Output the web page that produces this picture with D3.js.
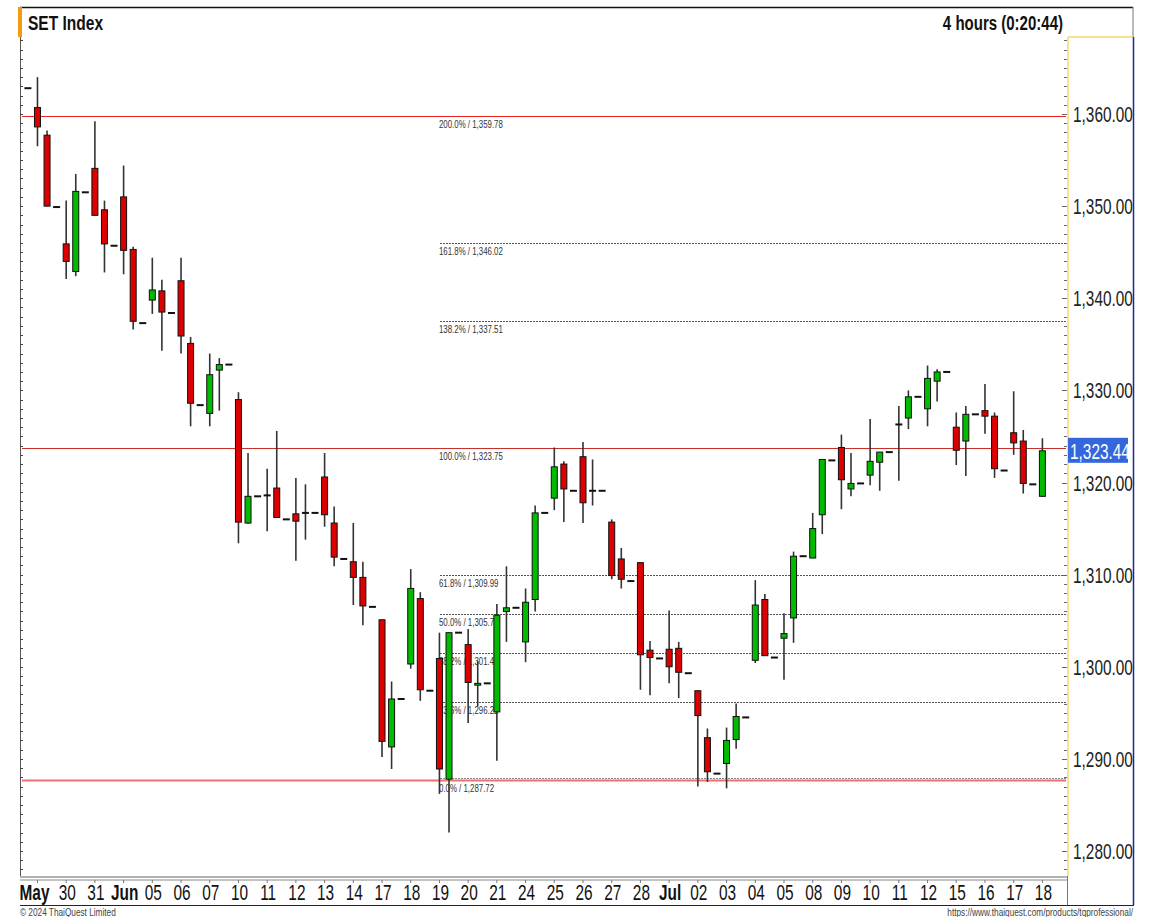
<!DOCTYPE html>
<html>
<head>
<meta charset="utf-8">
<script src="https://cdn.jsdelivr.net/npm/d3@7"></script>
<style>
  body { margin: 0; background: #fff; }
</style>
</head>
<body>
<div id="drawing"></div>
<script>
// 4 hour bars, 3 per day (morning, afternoon, close print)
const opens  = [1362.8, 1360.7,1357.7,1349.9, 1345.9,1342.9,1351.5, 1354.1,1349.6,1345.7, 1351.0,1345.3,1337.3,
  1339.8,1340.8,1338.4, 1341.9,1335.1,1328.4, 1327.5,1332.2,1332.8, 1329.0,1315.6,1318.5, 1318.6,1319.4,1316.0,
  1316.6,1316.7,1316.7, 1320.6,1315.6,1311.7, 1311.4,1309.7,1306.5, 1305.1,1291.3,1296.5, 1300.3,1307.4,1297.4,
  1300.9,1287.8,1303.7, 1302.4,1298.0,1298.2, 1295.1,1306.0,1306.4, 1302.7,1307.3,1316.7, 1318.3,1322.0,1319.1,
  1322.8,1319.1,1319.1, 1315.7,1311.7,1309.3, 1311.3,1301.8,1300.9, 1301.9,1302.0,1299.3, 1297.4,1292.3,1288.4,
  1289.5,1292.1,1294.5, 1300.7,1307.3,1301.0, 1303.1,1305.3,1312.0, 1311.8,1316.5,1322.4, 1323.8,1319.3,1319.9,
  1320.8,1322.2,1323.3, 1326.3,1327.0,1329.3, 1328.0,1331.0,1332.0, 1326.0,1324.5,1327.4, 1327.8,1327.2,1321.3,
  1325.4,1324.5,1319.8, 1318.5];
const highs  = [1362.8, 1364.0,1358.2,1349.9, 1350.6,1353.5,1351.5, 1359.2,1350.6,1345.7, 1354.4,1345.6,1337.3,
  1344.4,1342.0,1338.4, 1344.4,1335.8,1328.4, 1334.0,1333.5,1332.8, 1329.8,1323.2,1318.5, 1321.5,1325.6,1316.0,
  1320.5,1319.8,1316.7, 1323.2,1317.4,1311.7, 1315.6,1311.4,1306.5, 1305.1,1298.4,1296.5, 1310.6,1308.1,1297.4,
  1303.7,1303.7,1303.7, 1304.1,1300.6,1298.2, 1306.8,1310.9,1306.4, 1308.5,1317.5,1316.7, 1323.8,1322.3,1319.1,
  1324.4,1322.5,1319.1, 1316.0,1312.9,1309.3, 1311.3,1302.8,1300.9, 1306.1,1302.7,1299.3, 1297.4,1293.3,1288.4,
  1293.4,1296.0,1294.5, 1309.4,1307.9,1301.0, 1305.8,1312.5,1312.0, 1316.7,1322.5,1322.4, 1325.2,1323.2,1319.9,
  1326.9,1323.3,1323.3, 1328.3,1330.0,1329.3, 1332.7,1332.3,1332.0, 1327.6,1328.3,1327.4, 1330.7,1327.6,1321.3,
  1329.9,1325.7,1319.8, 1324.8];
const lows   = [1362.8, 1356.5,1350.0,1349.9, 1342.1,1342.4,1351.5, 1349.0,1342.8,1345.7, 1342.6,1336.6,1337.3,
  1338.3,1334.3,1338.4, 1334.0,1326.1,1328.4, 1326.1,1327.8,1332.8, 1313.4,1315.5,1318.5, 1314.7,1316.2,1316.0,
  1311.5,1313.8,1316.7, 1315.2,1310.9,1311.7, 1306.7,1304.5,1306.5, 1290.2,1288.9,1296.5, 1299.8,1296.3,1297.4,
  1286.2,1282.0,1303.7, 1293.9,1295.7,1298.2, 1289.8,1302.7,1306.4, 1300.5,1306.0,1316.7, 1317.0,1315.7,1319.1,
  1315.6,1317.5,1319.1, 1309.5,1308.5,1309.3, 1297.5,1296.9,1300.9, 1298.2,1296.6,1299.3, 1287.0,1287.5,1288.4,
  1286.8,1291.1,1294.5, 1300.4,1301.2,1301.0, 1298.6,1302.6,1312.0, 1311.8,1314.4,1322.4, 1317.1,1318.5,1319.9,
  1319.7,1319.1,1323.3, 1320.2,1325.8,1329.3, 1326.1,1328.8,1332.0, 1321.9,1320.7,1327.4, 1325.3,1320.5,1321.3,
  1323.0,1318.8,1319.8, 1318.5];
const closes = [1362.8, 1358.6,1350.0,1349.9, 1344.0,1351.6,1351.5, 1349.0,1345.9,1345.7, 1345.2,1337.5,1337.3,
  1340.9,1338.5,1338.4, 1335.9,1328.6,1328.4, 1331.7,1332.8,1332.8, 1315.7,1318.5,1318.5, 1318.6,1316.2,1316.0,
  1315.8,1316.7,1316.7, 1316.5,1311.9,1311.7, 1309.7,1306.6,1306.5, 1291.9,1296.5,1296.5, 1308.5,1297.5,1297.4,
  1288.9,1303.7,1303.7, 1298.3,1298.2,1298.2, 1305.6,1306.4,1306.4, 1307.0,1316.7,1316.7, 1321.7,1319.3,1319.1,
  1317.8,1319.1,1319.1, 1309.9,1309.5,1309.3, 1301.3,1301.0,1300.9, 1300.0,1299.4,1299.3, 1294.7,1288.6,1288.4,
  1292.0,1294.6,1294.5, 1306.7,1301.2,1301.0, 1303.6,1312.0,1312.0, 1315.0,1322.5,1322.4, 1320.3,1319.9,1319.9,
  1322.3,1323.3,1323.3, 1326.3,1329.3,1329.3, 1331.3,1332.0,1332.0, 1323.5,1327.4,1327.4, 1327.2,1321.5,1321.3,
  1324.3,1319.9,1319.8, 1323.44];

const dayLabels = ["May","30","31","Jun","05","06","07","10","11","12","13","14","17","18","19","20","21",
  "24","25","26","27","28","Jul","02","03","04","05","08","09","10","11","12","15","16","17","18"];
const monthNames = ["May","Jun","Jul"];

const fibLevels = [200.0, 161.8, 138.2, 100.0, 61.8, 50.0, 38.2, 23.6, 0.0];
const fibValues = [1359.78, 1346.02, 1337.51, 1323.75, 1309.99, 1305.74, 1301.48, 1296.22, 1287.72];
const redLevels = [200.0, 100.0, 0.0];

const priceTicks = [1280, 1290, 1300, 1310, 1320, 1330, 1340, 1350, 1360];
const lastPrice = 1323.44;

const width = 1149;
const height = 917;
const plot = {left: 20, right: 1067, top: 37, bottom: 876};
const font = "'Liberation Sans', Arial, sans-serif";
let svg, xScale, yScale;

// no narrow font installed, so squeeze Liberation Sans horizontally
function narrowText(parent, x, y, str, size, opts = {}){
  return parent.append("text")
    .attr("transform", `translate(${x},${y}) scale(${opts.squeeze || 0.72},1)`)
    .attr("text-anchor", opts.anchor || "start")
    .style("font-family", font)
    .style("font-size", size + "px")
    .style("font-weight", opts.bold ? "bold" : "normal")
    .attr("fill", opts.fill || "#111")
    .text(str);
}

function setup(){
  svg = d3.select("#drawing").append("svg")
    .attr("width", width)
    .attr("height", height)
    .style("background", "#fff")
    .style("display", "block");

  xScale = d3.scaleLinear().domain([0, opens.length - 1]).range([27.9, 1042.4]);
  yScale = d3.scaleLinear().domain([1280, 1360]).range([851, 114]);
}

function frame(){
  // header
  svg.append("line").attr("x1", 20).attr("x2", 1133).attr("y1", 7.5).attr("y2", 7.5)
    .attr("stroke", "#111").attr("stroke-width", 1.5);
  svg.append("rect").attr("x", 18).attr("y", 7).attr("width", 4).attr("height", 30).attr("fill", "#f39c12");
  narrowText(svg, 28, 30, "SET Index", 21, {bold: true, squeeze: 0.74});
  narrowText(svg, 1063, 30, "4 hours (0:20:44)", 21, {bold: true, anchor: "end", squeeze: 0.715});
  svg.append("line").attr("x1", 1133).attr("x2", 1133).attr("y1", 7).attr("y2", 37)
    .attr("stroke", "#777").attr("stroke-width", 1);

  // borders
  svg.append("line").attr("x1", 20.5).attr("x2", 20.5).attr("y1", plot.top).attr("y2", plot.bottom)
    .attr("stroke", "#555").attr("stroke-width", 1);
  svg.append("line").attr("x1", 1068).attr("x2", 1068).attr("y1", plot.top).attr("y2", plot.bottom)
    .attr("stroke", "#f5d76e").attr("stroke-width", 1.5);
  svg.append("line").attr("x1", 1068).attr("x2", 1133).attr("y1", plot.top).attr("y2", plot.top)
    .attr("stroke", "#f5d76e").attr("stroke-width", 1.5);
  svg.append("line").attr("x1", 1133.5).attr("x2", 1133.5).attr("y1", plot.top).attr("y2", 905)
    .attr("stroke", "#1a2a8a").attr("stroke-width", 1.5);

  // minor ticks every point on both sides
  const minor = d3.range(1278, 1369);
  svg.append("g").selectAll("line.lt").data(minor).enter().append("line")
    .attr("x1", 20).attr("x2", 23)
    .attr("y1", d => Math.round(yScale(d)) + 0.5).attr("y2", d => Math.round(yScale(d)) + 0.5)
    .attr("stroke", "#444").attr("stroke-width", 1);
  svg.append("g").selectAll("line.rt").data(minor).enter().append("line")
    .attr("x1", d => d % 10 === 0 ? 1062 : 1064).attr("x2", 1067)
    .attr("y1", d => Math.round(yScale(d)) + 0.5).attr("y2", d => Math.round(yScale(d)) + 0.5)
    .attr("stroke", "#666").attr("stroke-width", 1);

  // price labels
  const pl = svg.append("g");
  priceTicks.forEach(d => narrowText(pl, 1073, yScale(d) + 8, d3.format(",.2f")(d), 22, {fill: "#222", squeeze: 0.7}));

  // last price box
  svg.append("rect").attr("x", 1068).attr("y", yScale(lastPrice) - 13).attr("width", 60).attr("height", 25)
    .attr("fill", "#3466dc");
  narrowText(svg, 1070, yScale(lastPrice) + 8, d3.format(",.2f")(lastPrice), 22, {fill: "#fff", squeeze: 0.7});
}

function fibs(){
  const g = svg.append("g");
  fibLevels.forEach((lvl, i) => {
    const y = Math.round(yScale(fibValues[i])) + 0.5;
    if (redLevels.includes(lvl)) {
      g.append("line").attr("x1", 22).attr("x2", 1066).attr("y1", y).attr("y2", y)
        .attr("stroke", lvl === 0 ? "#f07070" : (lvl === 100 ? "#c8302a" : "#ee2222"))
        .attr("stroke-width", lvl === 0 ? 2 : 1.2);
      if (lvl === 0) {
        g.append("line").attr("x1", 440).attr("x2", 1066).attr("y1", y - 2).attr("y2", y - 2)
          .attr("stroke", "#888").attr("stroke-dasharray", "2,1");
      }
    } else {
      g.append("line").attr("x1", 440).attr("x2", 1066).attr("y1", y).attr("y2", y)
        .attr("stroke", "#555").attr("stroke-width", 1).attr("stroke-dasharray", "2,1");
    }
    narrowText(g, 439, y + 11, d3.format(".1f")(lvl) + "% / " + d3.format(",.2f")(fibValues[i]), 10.5,
      {fill: "#333", squeeze: 0.75});
  });
}

function candles(){
  const bars = opens.map((o, i) => ({i, o, h: highs[i], l: lows[i], c: closes[i]}));
  const g = svg.append("g");

  // wicks
  g.selectAll("line.wick").data(bars.filter(d => d.h > d.l)).enter().append("line")
    .attr("x1", d => xScale(d.i)).attr("x2", d => xScale(d.i))
    .attr("y1", d => yScale(d.h)).attr("y2", d => yScale(d.l))
    .attr("stroke", "#333").attr("stroke-width", 1.6);

  // bodies
  g.selectAll("rect.body").data(bars.filter(d => d.o !== d.c)).enter().append("rect")
    .attr("x", d => xScale(d.i) - 3).attr("width", 6)
    .attr("y", d => yScale(Math.max(d.o, d.c)))
    .attr("height", d => Math.max(1.5, Math.abs(yScale(d.o) - yScale(d.c))))
    .attr("fill", d => d.c > d.o ? "#00bb00" : "#dd0000")
    .attr("stroke", "#111").attr("stroke-width", 1);

  // flat bars: a dash
  g.selectAll("line.flat").data(bars.filter(d => d.o === d.c)).enter().append("line")
    .attr("x1", d => xScale(d.i) - 3.5).attr("x2", d => xScale(d.i) + 3.5)
    .attr("y1", d => yScale(d.c)).attr("y2", d => yScale(d.c))
    .attr("stroke", "#111").attr("stroke-width", 2);
}

function timeAxis(){
  const g = svg.append("g");
  g.append("line").attr("x1", 20).attr("x2", 1067).attr("y1", 877).attr("y2", 877)
    .attr("stroke", "#999").attr("stroke-width", 1.5);
  g.append("line").attr("x1", 20).attr("x2", 1067).attr("y1", 880).attr("y2", 880)
    .attr("stroke", "#888").attr("stroke-width", 1);
  g.append("line").attr("x1", 1067.5).attr("x2", 1067.5).attr("y1", 876).attr("y2", 905)
    .attr("stroke", "#777").attr("stroke-width", 1);
  g.append("line").attr("x1", 20).attr("x2", 1134).attr("y1", 905.5).attr("y2", 905.5)
    .attr("stroke", "#222").attr("stroke-width", 1.2);

  g.selectAll("line.tick").data(dayLabels).enter().append("line")
    .attr("x1", (d, j) => xScale(3 * j + 1)).attr("x2", (d, j) => xScale(3 * j + 1))
    .attr("y1", 880).attr("y2", 883).attr("stroke", "#777");

  dayLabels.forEach((d, j) => {
    narrowText(g, xScale(3 * j + 1) + (j === 0 ? -3 : 1), 900, d, 22,
      {anchor: "middle", bold: monthNames.includes(d), squeeze: 0.7});
  });

  narrowText(svg, 20, 916, "© 2024 ThaiQuest Limited", 11, {fill: "#444", squeeze: 0.75});
  narrowText(svg, 1133, 916, "https://www.thaiquest.com/products/tqprofessional/", 11,
    {fill: "#444", anchor: "end", squeeze: 0.75});
}

setup();
frame();
fibs();
candles();
timeAxis();
</script>
</body>
</html>
